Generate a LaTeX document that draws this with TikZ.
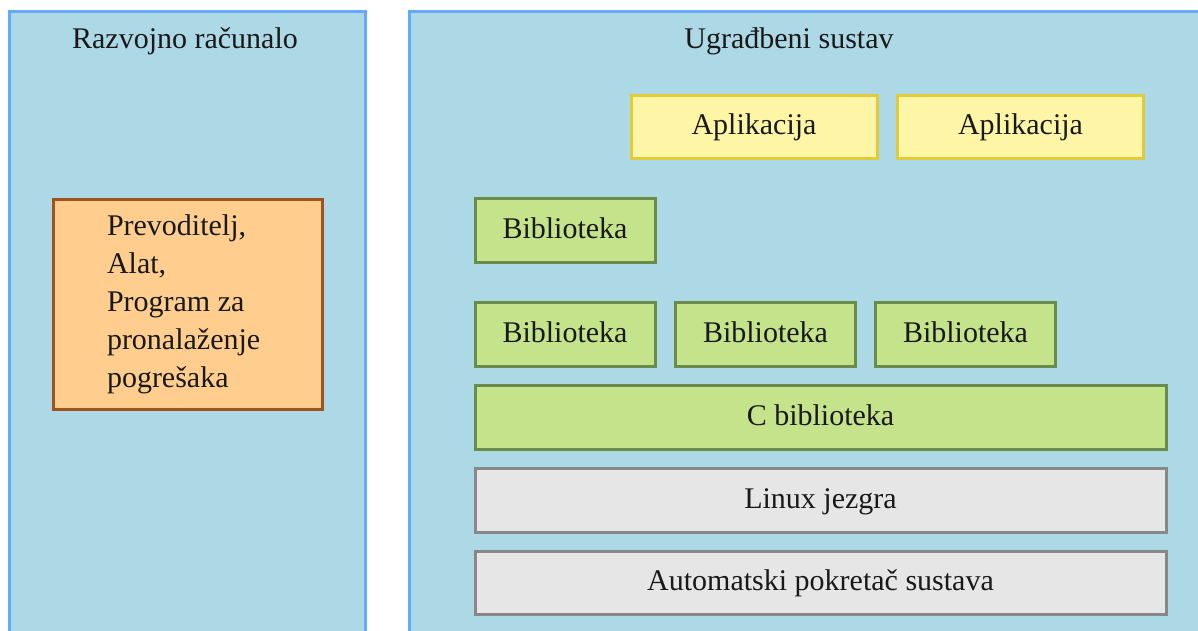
\documentclass[tikz,border=0pt]{standalone}
\usepackage{fontspec}
\setmainfont{Liberation Serif}
\definecolor{panelfill}{HTML}{ADD8E6}
\definecolor{panelline}{HTML}{66AAFF}
\definecolor{orfill}{HTML}{FFCE8F}
\definecolor{orline}{HTML}{A0521E}
\definecolor{yefill}{HTML}{FFF5A6}
\definecolor{yeline}{HTML}{E0CC3A}
\definecolor{grfill}{HTML}{C5E38A}
\definecolor{grline}{HTML}{6B8B4A}
\definecolor{gyfill}{HTML}{E6E6E6}
\definecolor{gyline}{HTML}{888888}
\tikzset{
  panel/.style={fill=panelfill, draw=panelline, line width=3pt},
  blk/.style={rectangle, line width=3pt, inner sep=0pt, font=\fontsize{30}{38}\selectfont, text=black!90},
  onebox/.style={blk, text height=23pt, text depth=6.5pt},
  orangebox/.style={blk, fill=orfill, draw=orline, minimum width=269pt, minimum height=210pt, align=flush left, text width=161pt, inner xsep=0pt},
  appbox/.style={onebox, fill=yefill, draw=yeline, minimum width=246pt, minimum height=63pt},
  libbox/.style={onebox, fill=grfill, draw=grline, minimum width=180pt, minimum height=64pt},
  widelib/.style={onebox, fill=grfill, draw=grline, minimum width=691pt, minimum height=64pt},
  graybox/.style={onebox, fill=gyfill, draw=gyline, minimum width=691pt, minimum height=64pt},
  title/.style={font=\fontsize{30}{38}\selectfont, text=black!90, inner sep=0pt}
}
\begin{document}
\begin{tikzpicture}[x=1pt, y=-1pt]
\useasboundingbox (0,0) rectangle (1198,630);
\clip (0,0) rectangle (1198,630);
\fill[white] (0,0) rectangle (1198,630);
% panels
\draw[panel] (9,11) rectangle (365,660);
\draw[panel] (409,11) rectangle (1230,660);
\node[title] (host) at (185,41) {Razvojno računalo};
\node[title] (target) at (789,41) {Ugrađbeni sustav};
% host tools
\node[orangebox] (tools) at (187.5,304) {Prevoditelj,\\Alat,\\Program za\\pronalaženje\\pogrešaka};
% target stack
\node[appbox] (app1) at (754,126.5) {Aplikacija};
\node[appbox] (app2) at (1020.5,126.5) {Aplikacija};
\node[libbox] (lib0) at (565,230) {Biblioteka};
\node[libbox] (lib1) at (565,334) {Biblioteka};
\node[libbox] (lib2) at (765.5,334) {Biblioteka};
\node[libbox] (lib3) at (965.5,334) {Biblioteka};
\node[widelib] (clib) at (820.5,417) {C biblioteka};
\node[graybox] (kernel) at (820.5,500) {Linux jezgra};
\node[graybox, minimum height=63pt] (boot) at (820.5,582.5) {Automatski pokretač sustava};
\end{tikzpicture}
\end{document}
